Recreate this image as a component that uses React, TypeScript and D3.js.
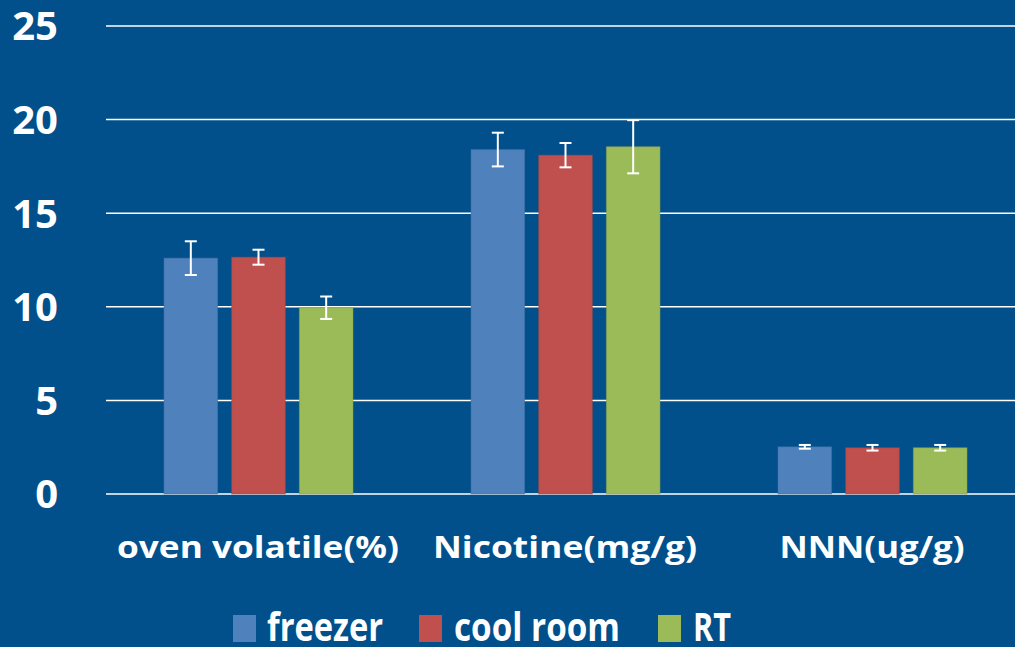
import React from "react";
import * as d3 from "d3";

const categories = ["oven volatile(%)", "Nicotine(mg/g)", "NNN(ug/g)"];
const seriesNames = ["freezer", "cool room", "RT"];
const freezerValues = [12.6, 18.4, 2.52];
const coolRoomValues = [12.65, 18.1, 2.47];
const rtValues = [9.95, 18.55, 2.47];
const freezerErrors = [0.9, 0.9, 0.1];
const coolRoomErrors = [0.4, 0.65, 0.15];
const rtErrors = [0.6, 1.42, 0.15];
const yTicks = [0, 5, 10, 15, 20, 25];
const colors = ["#4F81BD", "#C0504D", "#9BBB59"];
const categoryLabelWidths = [282, 264, 185];
const legendLabelWidths = [116, 166, 38];

const W = 1015;
const H = 647;
const BG = "#01508B";
const FONT = "'Open Sans', Lato, sans-serif";

export default function App() {
  const values = [freezerValues, coolRoomValues, rtValues];
  const errors = [freezerErrors, coolRoomErrors, rtErrors];
  const y = d3.scaleLinear().domain([0, 25]).range([494, 26]);
  const x0 = d3.scaleBand<string>().domain(categories).range([104.5, 1025.5]).paddingInner(0).paddingOuter(0);
  const x1 = d3
    .scaleBand<string>()
    .domain(seriesNames)
    .range([59.5, 59.5 + 189])
    .paddingInner(14 / 67.5)
    .paddingOuter(0);

  const legendItems = [
    { sx: 233, tx: 267 },
    { sx: 419, tx: 454 },
    { sx: 658, tx: 693 },
  ];

  return (
    <svg width={W} height={H} style={{ display: "block", position: "absolute", left: 0, top: 0 }}>
      <rect x={0} y={0} width={W} height={H} fill={BG} />
      {yTicks.map((t) => (
        <g key={t}>
          <line x1={106} x2={W} y1={y(t)} y2={y(t)} stroke="#ffffff" strokeWidth={1.5} />
          <text
            x={58}
            y={y(t)}
            dy="0.36em"
            textAnchor="end"
            fill="#ffffff"
            fontFamily={FONT}
            fontWeight="bold"
            fontSize={40}
          >
            {t}
          </text>
        </g>
      ))}
      {categories.map((c, ci) => (
        <g key={c} transform={`translate(${x0(c)},0)`}>
          {seriesNames.map((s, si) => {
            const v = values[si][ci];
            const e = errors[si][ci];
            const bx = x1(s)!;
            const bw = x1.bandwidth();
            const cx = bx + bw / 2;
            return (
              <g key={s}>
                <rect
                  x={bx}
                  y={y(v)}
                  width={bw}
                  height={y(0) - y(v)}
                  fill={colors[si]}
                  stroke={d3.color(colors[si])!.darker(0.4).toString()}
                  strokeWidth={1}
                  strokeOpacity={0.5}
                />
                <line x1={cx} x2={cx} y1={y(v + e)} y2={y(v - e)} stroke="#fff" strokeWidth={2} />
                <line x1={cx - 6} x2={cx + 6} y1={y(v + e)} y2={y(v + e)} stroke="#fff" strokeWidth={2} />
                <line x1={cx - 6} x2={cx + 6} y1={y(v - e)} y2={y(v - e)} stroke="#fff" strokeWidth={2} />
              </g>
            );
          })}
          <text
            x={x0.bandwidth() / 2 - categoryLabelWidths[ci] / 2}
            y={558}
            fill="#ffffff"
            fontFamily={FONT}
            fontWeight="bold"
            fontSize={31}
            textLength={categoryLabelWidths[ci]}
            lengthAdjust="spacingAndGlyphs"
          >
            {c}
          </text>
        </g>
      ))}
      {seriesNames.map((s, i) => (
        <g key={s}>
          <rect x={legendItems[i].sx} y={615} width={23} height={27} fill={colors[i]} />
          <text
            x={legendItems[i].tx}
            y={641}
            fill="#ffffff"
            fontFamily={FONT}
            fontWeight="bold"
            fontSize={39}
            textLength={legendLabelWidths[i]}
            lengthAdjust="spacingAndGlyphs"
          >
            {s}
          </text>
        </g>
      ))}
    </svg>
  );
}
